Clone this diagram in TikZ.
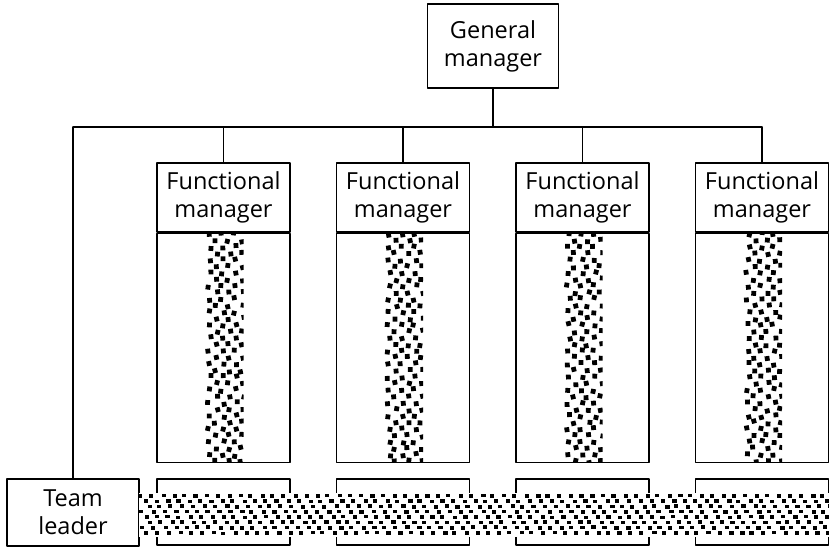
\documentclass[tikz,border=0pt]{standalone}
\usepackage{fontspec}
\setmainfont{Open Sans}
\begin{document}
\begin{tikzpicture}[x=1pt, y=-1pt, line width=1.1pt, line cap=round, line join=round,
		box/.style={draw, fill=white, align=center, inner sep=0pt, font=\fontsize{23.5}{28}\selectfont},
		speck/.style={fill=black, line width=0pt}]
			% Define picture bounds
			\useasboundingbox (0,0) rectangle (829,548);
			\pgfmathsetseed{7}
			
			% General manager on top
			\node[box, minimum width=131, minimum height=84] (gm) at (493,46) {General\\manager};
			
			% Team leader at the bottom left
			\node[box, minimum width=132, minimum height=67] (tl) at (73,512.5) {Team\\leader};
			
			% Functional managers with their columns and lower boxes
			\foreach \i/\cx in {1/223.5, 2/403, 3/582.5, 4/762} {
				\node[box, minimum width=133, minimum height=69] (fm\i) at (\cx,197.5) {Functional\\manager};
				\node[box, minimum width=133, minimum height=229, anchor=north] (fb\i) at (fm\i.south) {};
				\node[box, minimum width=133, minimum height=66] (lb\i) at (\cx,512) {};
				% Speckled strip down the column
				\begin{scope}
					\clip (\cx-20,232) rectangle (\cx+20,461);
					\foreach \c in {0,...,2}
					\foreach \r in {0,...,35} {
						\pgfmathsetmacro{\px}{\cx-14+\c*13+mod(\r,2)*6.5+2*rand}
						\pgfmathsetmacro{\py}{234+\r*6.5+1.5*rand}
						\pgfmathsetmacro{\ang}{15*rand}
						\fill[speck, shift={(\px,\py)}, rotate=\ang] (-2.4,-2.4) rectangle (2.4,2.4);
					}
				\end{scope}
			}
			
			% Reporting lines
			\coordinate (bus) at (493,127);
			\draw (gm.south) -- (bus);
			\draw (tl.north |- bus) -- (fm4.north |- bus);
			\draw (tl.north |- bus) -- (tl.north);
			\foreach \i in {1,...,4}
			\draw (fm\i.north |- bus) -- (fm\i.north);
			
			% Speckled band across the lower boxes
			\fill[white] (139,493) rectangle (829,537);
			\begin{scope}
				\clip (139,493) rectangle (829,537);
				\foreach \c in {0,...,63}
				\foreach \r in {0,...,7} {
					\pgfmathsetmacro{\px}{139+\c*11+mod(\r*4,11)+1.5*rand}
					\pgfmathsetmacro{\py}{494+\r*5.3+0.4*rand}
					\fill[speck] (\px,\py) rectangle ++(4.2,3.6);
				}
			\end{scope}
		\end{tikzpicture}
\end{document}
